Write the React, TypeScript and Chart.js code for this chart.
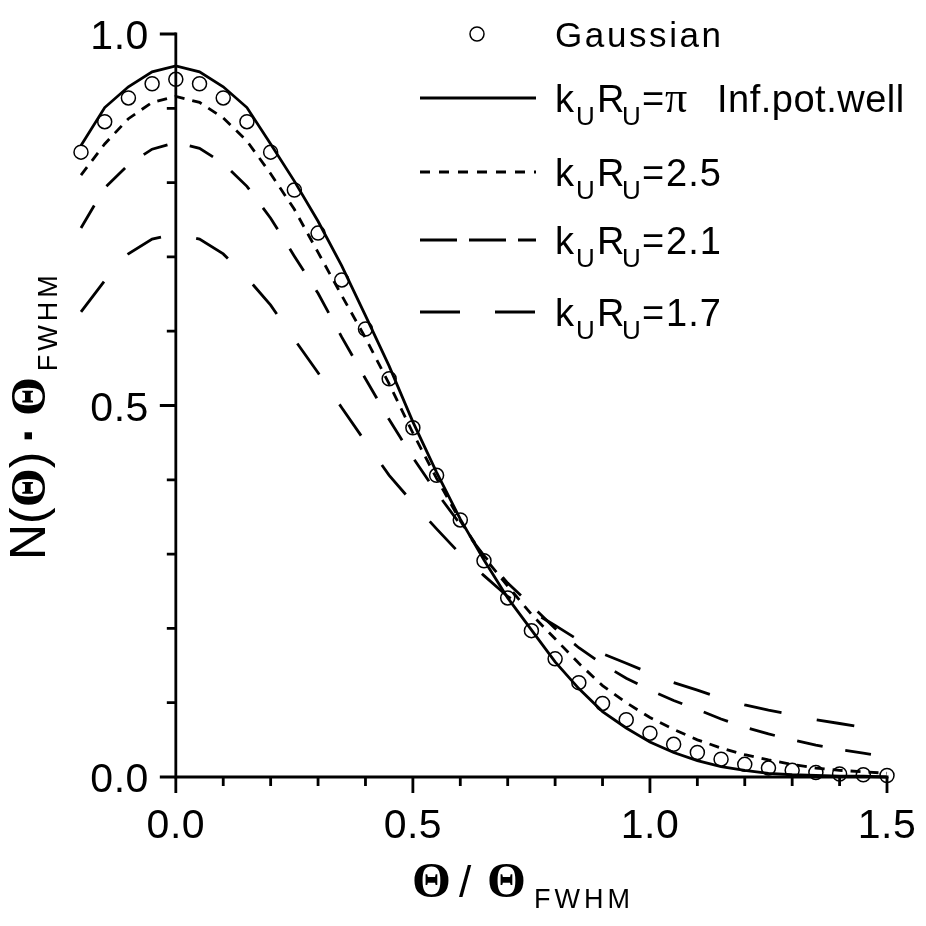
import { useEffect, useRef } from "react";
import { Chart, registerables } from "chart.js";
import type { Plugin } from "chart.js";

Chart.register(...registerables);

// theta / theta_FWHM, one point every 0.05
const THETA = [
  -0.2, -0.15, -0.1, -0.05, 0, 0.05, 0.1, 0.15, 0.2, 0.25, 0.3, 0.35, 0.4, 0.45, 0.5, 0.55, 0.6, 0.65,
  0.7, 0.75, 0.8, 0.85, 0.9, 0.95, 1.0, 1.05, 1.1, 1.15, 1.2, 1.25, 1.3, 1.35, 1.4, 1.45, 1.5,
];

const GAUSSIAN = [
  0.841, 0.882, 0.914, 0.933, 0.939, 0.933, 0.914, 0.882, 0.841, 0.79, 0.732, 0.669, 0.603, 0.536, 0.47,
  0.406, 0.346, 0.291, 0.241, 0.197, 0.159, 0.127, 0.099, 0.077, 0.059, 0.044, 0.033, 0.024, 0.017, 0.012,
  0.009, 0.006, 0.004, 0.003, 0.002,
];

// kR = pi, infinite potential well
const KR_PI = [
  0.85, 0.901, 0.929, 0.949, 0.957, 0.949, 0.929, 0.901, 0.852, 0.802, 0.748, 0.688, 0.621, 0.553, 0.478,
  0.41, 0.347, 0.292, 0.241, 0.198, 0.155, 0.119, 0.088, 0.066, 0.047, 0.033, 0.022, 0.014, 0.009, 0.005,
  0.003, 0.002, 0.001, 0.001, 0.0,
];

const KR_25 = [
  0.81, 0.852, 0.886, 0.908, 0.916, 0.908, 0.887, 0.856, 0.812, 0.764, 0.706, 0.648, 0.591, 0.529, 0.463,
  0.402, 0.345, 0.296, 0.257, 0.219, 0.186, 0.153, 0.123, 0.1, 0.08, 0.064, 0.05, 0.039, 0.03, 0.023,
  0.017, 0.012, 0.009, 0.007, 0.005,
];

const KR_21 = [
  0.739, 0.793, 0.824, 0.845, 0.854, 0.846, 0.826, 0.795, 0.752, 0.701, 0.651, 0.592, 0.536, 0.481, 0.43,
  0.383, 0.34, 0.298, 0.261, 0.231, 0.2, 0.174, 0.152, 0.133, 0.117, 0.103, 0.091, 0.078, 0.067, 0.058,
  0.05, 0.043, 0.037, 0.032, 0.027,
];

const KR_17 = [
  0.626, 0.668, 0.704, 0.724, 0.731, 0.724, 0.704, 0.672, 0.635, 0.589, 0.544, 0.497, 0.451, 0.406, 0.369,
  0.334, 0.3, 0.271, 0.243, 0.223, 0.204, 0.184, 0.166, 0.153, 0.14, 0.127, 0.117, 0.106, 0.097, 0.09,
  0.084, 0.077, 0.072, 0.067, 0.063,
];

const X_MAJOR = [0, 0.5, 1.0, 1.5];
const X_TICK_LABELS = ["0.0", "0.5", "1.0", "1.5"];
const X_MINOR = [0.1, 0.2, 0.3, 0.4, 0.6, 0.7, 0.8, 0.9, 1.1, 1.2, 1.3, 1.4];
const Y_MAJOR = [0, 0.5, 1.0];
const Y_TICK_LABELS = ["0.0", "0.5", "1.0"];
const Y_MINOR = [0.1, 0.2, 0.3, 0.4, 0.6, 0.7, 0.8, 0.9];

const LEGEND_VALUES = ["π", "2.5", "2.1", "1.7"];
const LEGEND_DASH = [[], [10, 9], [37, 12], [40, 35]];

const SANS = "'Liberation Sans', Arial, sans-serif";
const SERIF = "'Liberation Serif', 'Times New Roman', serif";

const toPoints = (ys: number[]) => THETA.map((x, i) => ({ x, y: ys[i] }));

const axesPlugin: Plugin<"line"> = {
  id: "originAxes",
  afterDraw(chart) {
    const { ctx } = chart;
    const xs = chart.scales.x;
    const ys = chart.scales.y;
    const x0 = xs.getPixelForValue(0);
    const xEnd = xs.getPixelForValue(1.5);
    const y0 = ys.getPixelForValue(0);
    const yTop = ys.getPixelForValue(1);

    ctx.save();
    ctx.strokeStyle = "#000";
    ctx.fillStyle = "#000";
    ctx.lineWidth = 2.8;
    ctx.lineCap = "butt";
    ctx.setLineDash([]);

    ctx.beginPath();
    ctx.moveTo(x0, yTop - 1.5);
    ctx.lineTo(x0, y0);
    ctx.lineTo(xEnd + 1.5, y0);
    ctx.stroke();

    ctx.beginPath();
    Y_MAJOR.forEach((v) => {
      const py = ys.getPixelForValue(v);
      ctx.moveTo(x0 - 16, py);
      ctx.lineTo(x0, py);
    });
    Y_MINOR.forEach((v) => {
      const py = ys.getPixelForValue(v);
      ctx.moveTo(x0 - 9, py);
      ctx.lineTo(x0, py);
    });
    X_MAJOR.forEach((v) => {
      const px = xs.getPixelForValue(v);
      ctx.moveTo(px, y0);
      ctx.lineTo(px, y0 + 16);
    });
    X_MINOR.forEach((v) => {
      const px = xs.getPixelForValue(v);
      ctx.moveTo(px, y0);
      ctx.lineTo(px, y0 + 9);
    });
    ctx.stroke();

    // tick labels
    ctx.font = `41px ${SANS}`;
    (ctx as any).letterSpacing = "0.5px";
    ctx.textBaseline = "alphabetic";
    ctx.textAlign = "right";
    Y_MAJOR.forEach((v, i) => {
      ctx.fillText(Y_TICK_LABELS[i], x0 - 27, ys.getPixelForValue(v) + 15);
    });
    ctx.textAlign = "center";
    X_MAJOR.forEach((v, i) => {
      ctx.fillText(X_TICK_LABELS[i], xs.getPixelForValue(v), y0 + 61);
    });

    // x title: Θ / Θ_FWHM
    ctx.textAlign = "left";
    (ctx as any).letterSpacing = "0px";
    let tx = 412;
    const tb = 897;
    ctx.font = `bold 50px ${SERIF}`;
    ctx.fillText("Θ", tx, tb);
    tx += ctx.measureText("Θ").width + 8;
    ctx.font = `44px ${SANS}`;
    ctx.fillText("/", tx, tb);
    tx += ctx.measureText("/").width + 16;
    ctx.font = `bold 50px ${SERIF}`;
    ctx.fillText("Θ", tx, tb);
    tx += ctx.measureText("Θ").width + 8;
    ctx.font = `27px ${SANS}`;
    (ctx as any).letterSpacing = "4px";
    ctx.fillText("FWHM", tx, tb + 11);

    // y title: N(Θ) · Θ_FWHM, rotated
    ctx.save();
    ctx.translate(45, 560);
    ctx.rotate(-Math.PI / 2);
    (ctx as any).letterSpacing = "0px";
    let lx = 0;
    ctx.font = `50px ${SANS}`;
    ctx.fillText("N(", lx, 0);
    lx += ctx.measureText("N(").width;
    ctx.font = `bold 50px ${SERIF}`;
    ctx.fillText("Θ", lx, 0);
    lx += ctx.measureText("Θ").width;
    ctx.font = `50px ${SANS}`;
    ctx.fillText(")", lx, 0);
    lx += ctx.measureText(")").width + 9;
    ctx.font = `bold 50px ${SANS}`;
    ctx.fillText("·", lx, 0);
    lx += ctx.measureText("·").width + 10;
    ctx.font = `bold 50px ${SERIF}`;
    ctx.fillText("Θ", lx, 0);
    lx += ctx.measureText("Θ").width + 6;
    ctx.font = `27px ${SANS}`;
    (ctx as any).letterSpacing = "4px";
    ctx.fillText("FWHM", lx, 12);
    ctx.restore();

    // legend
    (ctx as any).letterSpacing = "0px";
    ctx.lineWidth = 1.5;
    ctx.beginPath();
    ctx.arc(477, 34, 7, 0, Math.PI * 2);
    ctx.stroke();
    ctx.font = `35px ${SANS}`;
    (ctx as any).letterSpacing = "2.6px";
    ctx.fillText("Gaussian", 555, 47);

    const rows = [98, 172, 240, 312];
    rows.forEach((ry, i) => {
      ctx.lineWidth = 2.8;
      ctx.setLineDash(LEGEND_DASH[i]);
      ctx.beginPath();
      ctx.moveTo(420, ry);
      ctx.lineTo(536, ry);
      ctx.stroke();
      ctx.setLineDash([]);

      const base = ry + 14;
      ctx.font = `38px ${SANS}`;
      (ctx as any).letterSpacing = "1px";
      ctx.fillText("k", 555, base);
      ctx.fillText("R", 597, base);
      ctx.fillText("=", 642, base);
      ctx.font = `26px ${SANS}`;
      ctx.fillText("U", 576, base + 13);
      ctx.fillText("U", 622, base + 13);
      if (LEGEND_VALUES[i] === "π") {
        ctx.font = `44px ${SERIF}`;
        ctx.fillText("π", 665, base);
        ctx.font = `38px ${SANS}`;
        (ctx as any).letterSpacing = "0.5px";
        ctx.fillText("Inf.pot.well", 717, base);
      } else {
        ctx.font = `38px ${SANS}`;
        ctx.fillText(LEGEND_VALUES[i], 666, base);
      }
    });
    ctx.restore();
  },
};

export default function App() {
  const canvasRef = useRef<HTMLCanvasElement>(null);

  useEffect(() => {
    if (!canvasRef.current) return;
    const ctx = canvasRef.current.getContext("2d");
    if (!ctx) return;

    const line = (data: number[], dash: number[]) => ({
      data: toPoints(data),
      borderColor: "#000",
      borderWidth: 2.8,
      borderDash: dash,
      pointRadius: 0,
      tension: 0,
      fill: false,
      clip: false as const,
    });

    const chart = new Chart(ctx, {
      type: "line",
      data: {
        datasets: [
          {
            data: toPoints(GAUSSIAN),
            showLine: false,
            pointStyle: "circle",
            pointRadius: 7,
            pointBorderWidth: 1.5,
            pointBorderColor: "#000",
            pointBackgroundColor: "rgba(0,0,0,0)",
            clip: false as const,
          },
          line(KR_PI, []),
          line(KR_25, [10, 8]),
          line(KR_21, [26, 23]),
          line(KR_17, [38, 36]),
        ],
      },
      options: {
        responsive: false,
        animation: false,
        layout: { padding: { left: 81, right: 39, top: 34, bottom: 149 } },
        scales: {
          x: { type: "linear", min: -0.2, max: 1.5, display: false },
          y: { type: "linear", min: 0, max: 1, display: false },
        },
        plugins: {
          legend: { display: false },
          tooltip: { enabled: false },
        },
      },
      plugins: [axesPlugin],
    });

    return () => {
      chart.destroy();
    };
  }, []);

  return (
    <div style={{ position: "absolute", left: 0, top: 0, width: 926, height: 926, background: "#fff" }}>
      <canvas ref={canvasRef} width={926} height={926}></canvas>
    </div>
  );
}
